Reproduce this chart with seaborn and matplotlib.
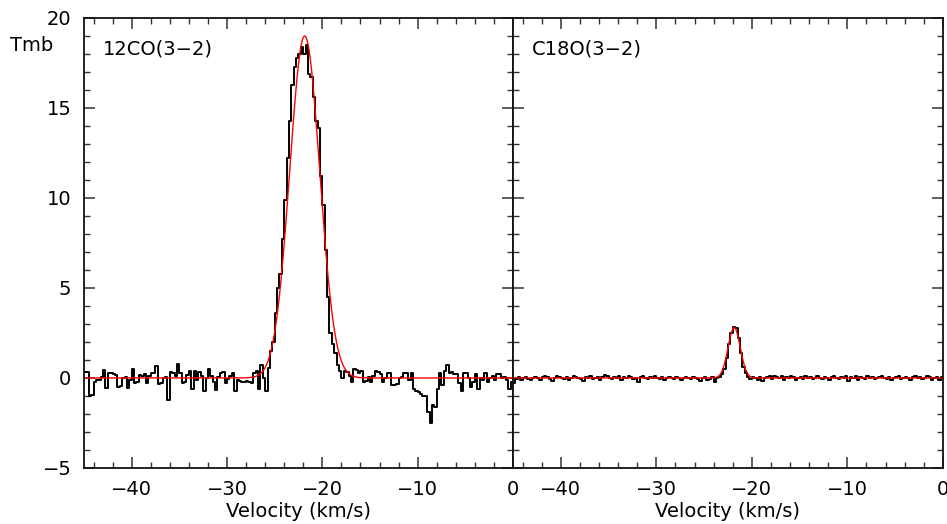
import numpy as np
import pandas as pd
import seaborn as sns
import matplotlib
matplotlib.use("Agg")
import matplotlib.pyplot as plt
from matplotlib.ticker import MultipleLocator

# channel grid: first channel centre and channel width (km/s)
V_START = -44.875
DV = 0.25

# 12CO(3-2) main-beam temperature per channel
tmb_12co = [
    0.35, 0.35, -1.0, -0.95, -0.2, -0.1, -0.1, 0.05, 0.45, -0.55,
    0.3, 0.25, 0.2, 0.15, -0.5, -0.45, 0.0, 0.05, -0.55, -0.1,
    0.5, -0.3, -0.25, 0.15, 0.1, 0.2, -0.3, 0.1, 0.25, 0.25,
    0.65, -0.35, -0.3, 0.0, 0.05, -1.2, 0.35, 0.25, 0.1, 0.8,
    0.25, -0.3, -0.25, 0.15, 0.4, -0.6, 0.4, -0.1, 0.35, 0.1,
    -0.75, 0.0, 0.5, 0.1, -0.2, -0.65, 0.05, 0.25, 0.35, -0.3,
    -0.05, 0.1, 0.3, -0.75, -0.1, -0.15, -0.2, -0.2, -0.15, -0.2,
    -0.3, 0.25, 0.4, -0.6, 0.7, 0.0, -0.7, 0.55, 1.5, 2.0,
    3.6, 5.0, 5.8, 7.7, 9.9, 12.2, 14.3, 16.3, 17.3, 17.8,
    18.0, 18.4, 18.0, 18.5, 16.9, 16.7, 15.6, 14.3, 13.9, 11.2,
    9.6, 7.1, 4.5, 2.5, 1.9, 1.4, 0.7, 0.4, 0.0, 0.4,
    0.35, 0.1, -0.2, 0.5, 0.45, 0.25, 0.4, -0.2, -0.15, 0.05,
    -0.2, 0.1, 0.4, 0.35, 0.2, -0.2, 0.0, 0.3, 0.25, -0.4,
    -0.4, -0.35, 0.0, 0.05, 0.3, 0.3, -0.1, 0.3, -0.6, -0.7,
    -0.8, -0.9, -1.0, -1.0, -1.9, -2.5, -1.5, -1.6, -0.6, 0.3,
    -0.4, 0.4, 0.7, 0.3, 0.35, 0.2, 0.2, -0.3, -0.7, 0.3,
    0.3, 0.0, -0.5, -0.2, 0.2, -0.6, 0.0, -0.1, 0.3, -0.2,
    0.0, 0.1, -0.1, 0.2, 0.2, 0.0, 0.05, -0.1, -0.6, -0.2,
]

# C18O(3-2) main-beam temperature per channel
tmb_c18o = [
    -0.3, -0.05, 0.05, -0.1, 0.0, 0.05, -0.05, -0.1, 0.0, 0.05,
    0.0, -0.1, 0.05, 0.1, 0.05, -0.05, -0.15, 0.0, 0.1, 0.05,
    0.0, -0.05, 0.05, -0.1, 0.0, 0.1, 0.05, 0.0, -0.05, -0.15,
    0.05, 0.0, 0.1, -0.05, 0.0, 0.05, -0.1, 0.05, 0.15, 0.1,
    0.0, -0.05, 0.05, 0.0, 0.1, -0.1, 0.05, 0.0, 0.1, 0.05,
    -0.05, 0.0, -0.2, 0.05, 0.1, 0.0, -0.05, 0.05, 0.0, 0.1,
    0.0, -0.05, 0.05, -0.1, 0.0, 0.05, 0.0, -0.05, 0.05, 0.0,
    -0.1, 0.0, 0.05, 0.0, -0.05, 0.05, 0.0, -0.05, -0.15, 0.0,
    0.05, -0.1, -0.05, 0.05, -0.2, 0.0, 0.05, 0.2, 0.5, 1.1,
    1.9, 2.5, 2.85, 2.75, 2.2, 1.4, 0.6, 0.25, 0.05, -0.05,
    0.05, 0.0, -0.1, 0.05, -0.15, 0.0, 0.05, 0.1, -0.05, 0.1,
    0.05, 0.0, 0.1, -0.1, 0.05, 0.0, 0.1, 0.05, -0.1, 0.0,
    0.05, -0.05, 0.1, 0.0, 0.05, -0.05, 0.0, 0.1, 0.0, -0.05,
    0.05, 0.0, -0.1, 0.05, 0.1, 0.0, -0.05, 0.05, 0.0, 0.1,
    -0.15, 0.05, 0.0, 0.1, -0.1, 0.05, 0.0, -0.05, 0.1, 0.0,
    0.05, -0.05, 0.0, 0.05, 0.1, 0.0, -0.05, 0.05, -0.1, 0.0,
    0.05, 0.1, -0.05, 0.0, 0.05, 0.0, -0.1, 0.05, 0.1, 0.0,
    0.05, -0.05, 0.0, 0.1, 0.05, -0.1, 0.0, 0.05, -0.1, 0.05,
]

# gaussian fit results: amplitude (K), centre (km/s), FWHM (km/s)
fit_12co = (19.0, -21.85, 3.7)
fit_c18o = (2.8, -21.85, 1.5)

line_names = ["12CO(3\u22122)", "C18O(3\u22122)"]

sns.set_style("ticks")
plt.rcParams['font.family'] = ['DejaVu Sans']
plt.rcParams['font.size'] = 14
plt.rcParams['axes.linewidth'] = 1.3
plt.rcParams['text.color'] = 'black'
plt.rcParams['axes.labelcolor'] = 'black'
plt.rcParams['xtick.labelcolor'] = 'black'
plt.rcParams['ytick.labelcolor'] = 'black'
plt.rcParams['axes.edgecolor'] = '#111111'


def gauss(v, fit):
    amp, v0, fwhm = fit
    sig = fwhm / (2 * np.sqrt(2 * np.log(2)))
    return amp * np.exp(-(v - v0) ** 2 / (2 * sig ** 2))


fig = plt.figure(figsize=(9.47, 5.24), dpi=100)
ax1 = fig.add_axes([0.0887, 0.1069, 0.453, 0.8588])
ax2 = fig.add_axes([0.5417, 0.1069, 0.454, 0.8588], sharey=ax1)

vgrid = np.linspace(-45, 0, 900)
for ax, tmb, fit, name in zip([ax1, ax2], [tmb_12co, tmb_c18o], [fit_12co, fit_c18o], line_names):
    df = pd.DataFrame({"v": V_START + DV * np.arange(len(tmb)), "tmb": tmb})
    sns.lineplot(data=df, x="v", y="tmb", ax=ax, color="black", lw=1.4,
                 drawstyle="steps-mid", estimator=None)
    ax.plot(vgrid, gauss(vgrid, fit), color="red", lw=1.0)
    ax.set_xlim(-45, 0)
    ax.set_ylim(-5, 20)
    ax.xaxis.set_major_locator(MultipleLocator(10))
    ax.xaxis.set_minor_locator(MultipleLocator(2))
    ax.yaxis.set_major_locator(MultipleLocator(5))
    ax.yaxis.set_minor_locator(MultipleLocator(1))
    ax.tick_params(which="both", direction="in", top=True, right=True, color="#333333")
    ax.tick_params(which="major", length=8, width=1.1, pad=9)
    ax.tick_params(which="minor", length=4, width=1.0)
    ax.set_xlabel("Velocity (km/s)", labelpad=2)
    ax.set_ylabel("")
    ax.text(0.045, 0.93, name, transform=ax.transAxes, ha="left", va="center")

ax2.tick_params(axis="y", labelleft=False)
fig.text(0.011, 0.913, "Tmb", ha="left", va="center")

fig.savefig("out.png", dpi=100)
